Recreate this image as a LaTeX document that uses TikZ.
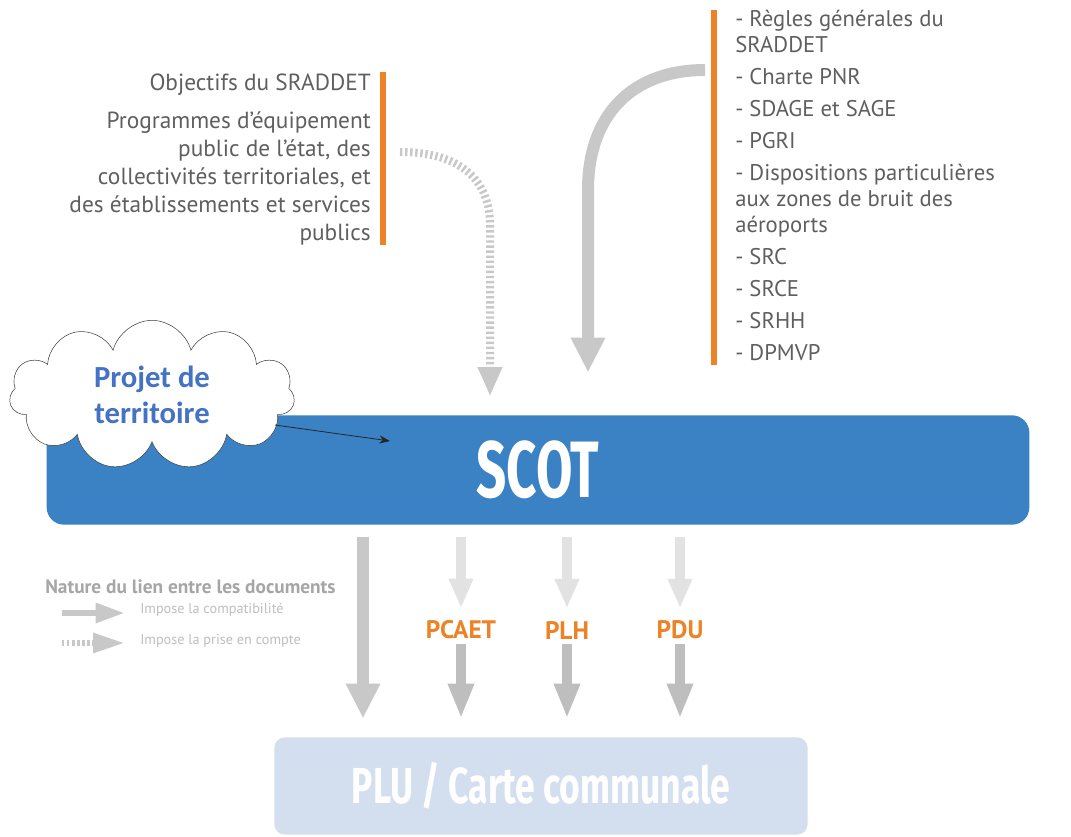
\documentclass[tikz,border=0pt]{standalone}
\usepackage{fontspec}
\setmainfont{PT Sans}
\newfontfamily\cloudfont{Carlito}
\newfontfamily\boxfont{Fira Sans}
\usetikzlibrary{arrows.meta,calc,shapes.symbols}
\definecolor{OrangeClr}{RGB}{236,131,38}
\definecolor{BlueClr}{RGB}{58,130,195}
\definecolor{PaleClr}{RGB}{211,223,239}
\definecolor{TextClr}{RGB}{95,95,95}
\definecolor{ArrowClr}{RGB}{200,200,200}
\definecolor{LightClr}{RGB}{226,226,226}
\definecolor{CloudClr}{RGB}{68,114,196}

\begin{document}
\begin{tikzpicture}[x=0.75pt,y=-0.75pt,
  compat/.style={draw=ArrowClr,line width=9pt,-{Triangle[width=24pt,length=26pt]}},
  lightcompat/.style={draw=LightClr,line width=8pt,-{Triangle[width=17pt,length=22pt]}},
  lowcompat/.style={draw=ArrowClr!95!black,line width=8pt,-{Triangle[width=18pt,length=26pt]}},
  account/.style={draw=ArrowClr,line width=6pt,dash pattern=on 1.8pt off 2pt,
    -{Triangle[width=17pt,length=22pt]}},
  doclabel/.style={text=OrangeClr,font=\bfseries\fontsize{19}{19}\selectfont},
  bar/.style={OrangeClr,line width=5pt}]
\useasboundingbox (0,0) rectangle (1071,836);
\fill[white] (0,0) rectangle (1071,836);

\node[anchor=north east,align=right,inner sep=0,text=TextClr,
  font=\fontsize{17.5}{21}\selectfont] (prog) at (371,74)
  {Objectifs du SRADDET\\[7pt]Programmes d’équipement\\public de l’état, des\\
   collectivités territoriales, et\\des établissements et services\\publics};
\node[anchor=north west,align=left,inner sep=0,text=TextClr,
  font=\fontsize{17}{19.5}\selectfont] (regles) at (735,10)
  {- Règles générales du\\SRADDET\\[4.5pt]- Charte PNR\\[4.5pt]- SDAGE et SAGE\\[4.5pt]
   - PGRI\\[4.5pt]- Dispositions particulières\\aux zones de bruit des\\aéroports\\[4.5pt]
   - SRC\\[4.5pt]- SRCE\\[4.5pt]- SRHH\\[4.5pt]- DPMVP};
\draw[bar] (383,72) -- (383,245);
\draw[bar] (714,10) -- (714,365);

\node[fill=BlueClr,rounded corners=13pt,minimum width=737pt,minimum height=82pt,
  text=white,font=\boxfont\bfseries\fontsize{60}{60}\selectfont] (scot) at (538,470)
  {\scalebox{0.66}[1]{SCOT}};
\node[fill=PaleClr,rounded corners=8pt,minimum width=400pt,minimum height=73pt,
  text=white,font=\boxfont\bfseries\fontsize{38}{38}\selectfont] (plu) at (541,786)
  {\scalebox{0.7}[1]{PLU / Carte communale}};

\node[cloud,cloud puffs=11,cloud ignores aspect,draw=black!75,fill=white,
  minimum width=214pt,minimum height=112pt,align=center,text=CloudClr,
  font=\cloudfont\bfseries\fontsize{23}{27}\selectfont] (proj) at (152,395)
  {Projet de\\territoire};

\coordinate (r) at (705,70);
\coordinate (o) at (400,152);
\coordinate (s) at (390,441);
\coordinate (m) at (363,600);
\draw[compat] (r) .. controls (632,70) and (588,115) .. (588,190) -- ([yshift=32pt]scot.north -| 588,0);
\draw[account] (o) .. controls (460,152) and (490,180) .. (490,225) -- ([yshift=14pt]scot.north -| 490,0);
\draw[-{Stealth[length=8pt]},black!85,semithick] ($(proj.center)+(123,30)$) -- (s);

\node[doclabel] (pcaet) at (461,630) {PCAET};
\node[doclabel] (plh) at (567,630) {PLH};
\node[doclabel] (pdu) at (680,630) {PDU};

\draw[compat] ([yshift=-9pt]scot.south -| m) -- ([yshift=14pt]plu.north -| m);
\foreach \d in {pcaet,plh,pdu}{
  \draw[lightcompat] ([yshift=-9pt]scot.south -| \d) -- ([yshift=6pt]\d.north);
  \draw[lowcompat] ([yshift=0pt]\d.south) -- ([yshift=14pt]plu.north -| \d);
}

\node[anchor=west,inner sep=0,text=black!35,font=\bfseries\fontsize{14.5}{14.5}\selectfont]
  (nature) at (45,587) {Nature du lien entre les documents};
\draw[draw=ArrowClr,line width=5pt,-{Triangle[width=14pt,length=22pt]}] (62,613) -- (125,613);
\draw[draw=ArrowClr,line width=5pt,dash pattern=on 1.8pt off 2pt,
  -{Triangle[width=14pt,length=24pt]}] (62,643) -- (125,643);
\node[anchor=west,inner sep=0,text=black!25,font=\fontsize{10.7}{10.7}\selectfont]
  (compa) at (140,610) {Impose la compatibilité};
\node[anchor=west,inner sep=0,text=black!25,font=\fontsize{10.7}{10.7}\selectfont]
  (prise) at (140,641) {Impose la prise en compte};
\end{tikzpicture}
\end{document}
